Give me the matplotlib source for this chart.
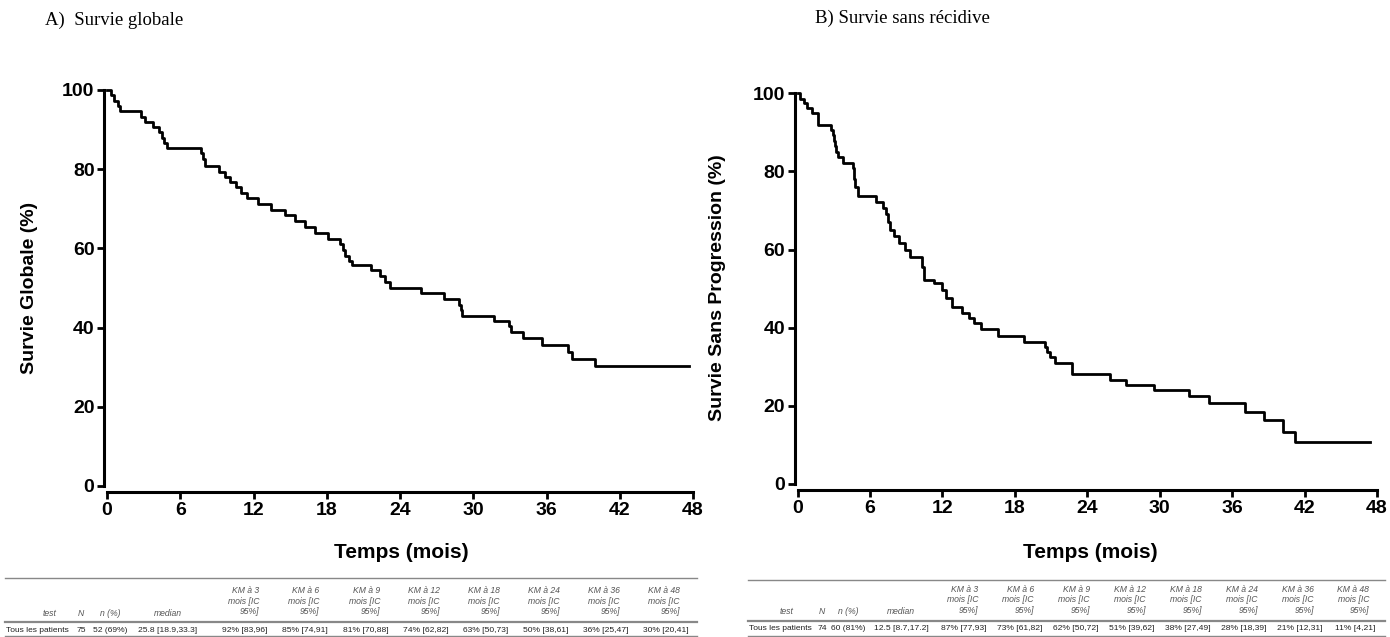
import matplotlib
matplotlib.use("Agg")
import matplotlib.pyplot as plt
from matplotlib.lines import Line2D

W, H = 1390, 637

# Survie globale (Kaplan-Meier)
os_time = [0, 0.3, 0.6, 0.9, 1.1, 2.8, 3.1, 3.8, 4.3, 4.5, 4.7, 4.9, 7.7, 7.85, 8.0,
           9.2, 9.7, 10.1, 10.6, 11.0, 11.5, 12.4, 13.4, 14.6, 15.4, 16.2, 17.0, 18.1,
           19.1, 19.3, 19.5, 19.8, 20.1, 21.6, 22.4, 22.8, 23.2, 25.7, 27.6, 28.8, 29.0,
           29.1, 31.7, 32.9, 33.1, 34.1, 35.6, 37.8, 38.1, 40.0, 47.7]
os_surv = [100, 98.7, 97.3, 96.0, 94.7, 93.3, 92.0, 90.7, 89.3, 88.0, 86.7, 85.3, 84.0, 82.7, 80.7,
           79.3, 78.0, 76.7, 75.4, 74.0, 72.7, 71.3, 69.7, 68.5, 67.0, 65.5, 63.8, 62.5,
           61.0, 59.5, 58.0, 56.8, 55.8, 54.5, 53.0, 51.6, 49.9, 48.8, 47.2, 45.8, 44.4,
           43.0, 41.7, 40.3, 39.0, 37.5, 35.6, 33.8, 32.1, 30.3, 30.3]

# Survie sans progression
pfs_time = [0, 0.2, 0.5, 0.8, 1.16, 1.7, 2.8, 2.9, 3.0, 3.1, 3.2, 3.35, 3.75, 4.57, 4.7, 4.8,
            4.98, 6.5, 7.1, 7.3, 7.5, 7.7, 8.0, 8.4, 8.9, 9.3, 10.3, 10.5, 11.3, 12.0, 12.3,
            12.8, 13.6, 14.2, 14.6, 15.2, 16.6, 18.8, 20.5, 20.7, 20.9, 21.3, 22.7, 25.9,
            27.2, 29.5, 32.4, 34.1, 37.1, 38.6, 40.2, 41.2, 47.4]
pfs_surv = [100, 98.6, 97.5, 96.2, 94.9, 91.9, 90.5, 89.2, 87.8, 86.5, 85.1, 83.8, 82.1, 80.8,
            78.0, 76.0, 73.6, 72.1, 70.7, 69.0, 67.0, 65.0, 63.5, 61.6, 60.0, 58.2, 55.5,
            52.2, 51.4, 49.7, 47.5, 45.4, 43.7, 42.4, 41.1, 39.6, 37.9, 36.4, 35.0, 33.8,
            32.6, 30.9, 28.2, 26.6, 25.3, 24.1, 22.4, 20.7, 18.5, 16.4, 13.4, 10.8, 10.8]

x_ticks = [0, 6, 12, 18, 24, 30, 36, 42, 48]
y_ticks = [0, 20, 40, 60, 80, 100]

km_header = ["KM à 3", "KM à 6", "KM à 9", "KM à 12", "KM à 18", "KM à 24", "KM à 36", "KM à 48"]
os_row = ["Tous les patients", "75", "52 (69%)", "25.8 [18.9,33.3]",
          "92% [83,96]", "85% [74,91]", "81% [70,88]", "74% [62,82]",
          "63% [50,73]", "50% [38,61]", "36% [25,47]", "30% [20,41]"]
pfs_row = ["Tous les patients", "74", "60 (81%)", "12.5 [8.7,17.2]",
           "87% [77,93]", "73% [61,82]", "62% [50,72]", "51% [39,62]",
           "38% [27,49]", "28% [18,39]", "21% [12,31]", "11% [4,21]"]

plt.rcParams["font.family"] = ["Liberation Sans", "DejaVu Sans"]


def fx(x):
    return x / W


def fy(y):
    return 1 - y / H


def km_axes(fig, left, top, right, bottom, t, s):
    ax = fig.add_axes([fx(left), fy(bottom), fx(right - left), (bottom - top) / H])
    ax.step(t, s, where="post", color="black", lw=2.0, clip_on=False)
    ax.set_xlim(0, 48)
    ax.set_ylim(0, 100)
    ax.set_xticks(x_ticks)
    ax.set_yticks(y_ticks)
    for side in ("top", "right"):
        ax.spines[side].set_visible(False)
    ax.spines["left"].set_position(("outward", 2))
    ax.spines["bottom"].set_position(("outward", 4.5))
    for side in ("left", "bottom"):
        ax.spines[side].set_linewidth(2.2)
    ax.tick_params(direction="out", length=5, width=2, labelsize=14, pad=2)
    for lab in ax.get_xticklabels() + ax.get_yticklabels():
        lab.set_fontweight("bold")
    return ax


def draw_table(fig, x0, x1, cols, row, y_top, y_mid, y_bot):
    gray = "#555555"
    for yy, lw in ((y_top, 1.0), (y_mid, 1.6), (y_bot, 1.0)):
        fig.add_artist(Line2D([fx(x0), fx(x1)], [fy(yy), fy(yy)],
                              transform=fig.transFigure, color="#888888", lw=lw))
    labels = ["test", "N", "n (%)", "median"]
    for cx, lab in zip(cols[:4], labels):
        fig.text(fx(cx), fy(y_mid - 9), lab, fontsize=6.2, style="italic",
                 color=gray, ha="center", va="center")
    for cx, lab in zip(cols[4:], km_header):
        fig.text(fx(cx + 14), fy(y_mid - 21), f"{lab}\nmois [IC\n95%]", fontsize=6.2,
                 style="italic", color=gray, ha="right", va="center", linespacing=1.2)
    fig.text(fx(x0 + 1), fy(y_mid + 8), row[0], fontsize=6.0, color="#222222",
             ha="left", va="center")
    for cx, val in zip(cols[1:], row[1:]):
        fig.text(fx(cx), fy(y_mid + 8), val, fontsize=6.1, color="#222222",
                 ha="center", va="center")


fig = plt.figure(figsize=(W / 100, H / 100), dpi=100)

ax_a = km_axes(fig, 107, 90, 693, 486, os_time, os_surv)
ax_b = km_axes(fig, 797.5, 93.3, 1377, 484, pfs_time, pfs_surv)

fig.text(fx(45), fy(20), "A)  Survie globale", family="Liberation Serif",
         fontsize=13.5, va="center", ha="left")
fig.text(fx(815), fy(18), "B) Survie sans récidive", family="Liberation Serif",
         fontsize=13.5, va="center", ha="left")

fig.text(fx(30), fy(288), "Survie Globale (%)", rotation=90, fontsize=14,
         fontweight="bold", ha="center", va="center")
fig.text(fx(718), fy(288), "Survie Sans Progression (%)", rotation=90, fontsize=14,
         fontweight="bold", ha="center", va="center")
fig.text(fx(401), fy(552), "Temps (mois)", fontsize=15, fontweight="bold",
         ha="center", va="center")
fig.text(fx(1090), fy(552), "Temps (mois)", fontsize=15, fontweight="bold",
         ha="center", va="center")

cols_a = [50, 81, 110, 168, 245, 305, 366, 426, 486, 546, 606, 666]
cols_b = [787, 822, 848, 901, 964, 1020, 1076, 1132, 1188, 1244, 1300, 1355]
draw_table(fig, 5, 697, cols_a, os_row, 578, 622, 636)
draw_table(fig, 748, 1385, cols_b, pfs_row, 580, 621, 636)

fig.savefig("out.png", dpi=100)
